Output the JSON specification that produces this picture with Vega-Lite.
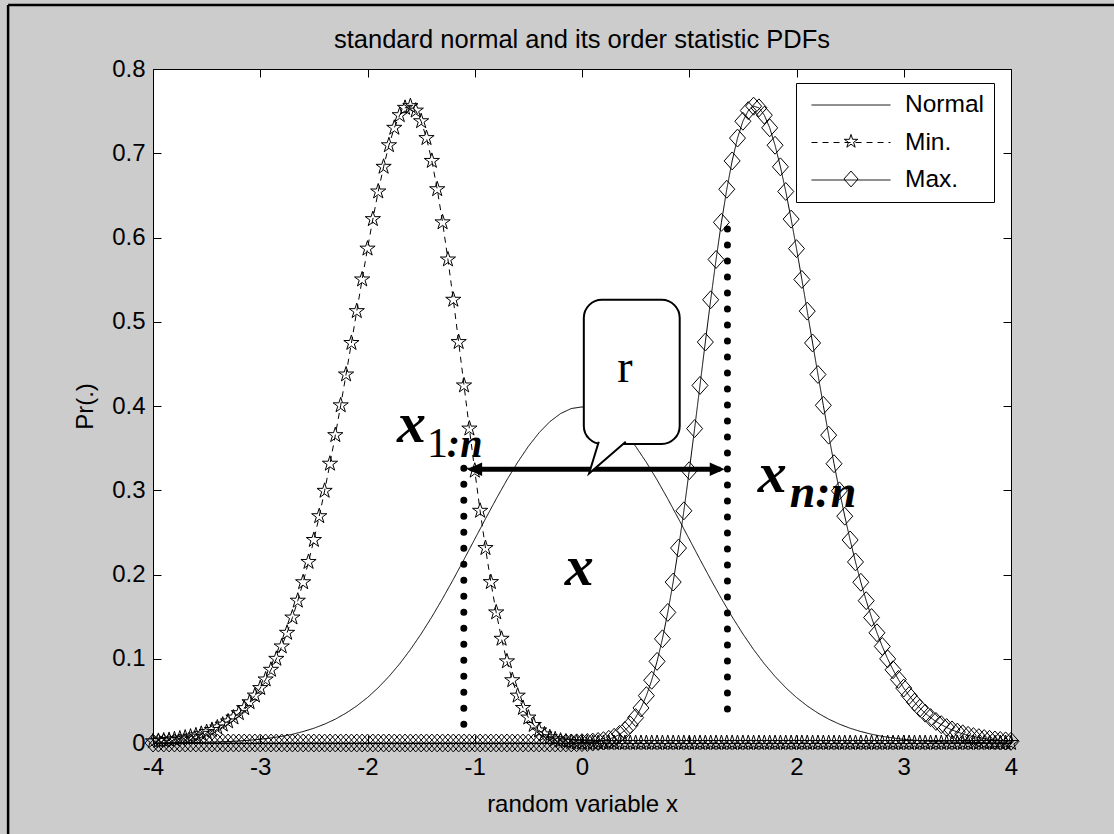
{
  "$schema": "https://vega.github.io/schema/vega-lite/v6.json",
  "width": 858,
  "height": 674,
  "autosize": {"type": "none"},
  "padding": {"left": 153, "top": 69, "right": 103, "bottom": 91},
  "background": "#cccccc",
  "title": {"text": "standard normal and its order statistic PDFs", "font": "Liberation Sans", "fontSize": 25.5, "fontWeight": "normal", "color": "black", "anchor": "middle", "frame": "group", "baseline": "alphabetic", "offset": 0, "dy": 70},
  "config": {
    "view": {"stroke": "black", "strokeWidth": 1, "fill": "white"},
    "axis": {"labelFont": "Liberation Sans", "titleFont": "Liberation Sans", "labelColor": "black", "titleColor": "black", "labelFontSize": 24, "titleFontSize": 24, "titleFontWeight": "normal", "grid": false, "domain": false, "tickColor": "black", "tickSize": -8, "tickWidth": 1, "labelFlush": false, "labelOverlap": false}
  },
  "datasets": {
    "c": [
      {"s":"Normal","x":-4,"y":0.0001},{"s":"Normal","x":-3.9,"y":0.0002},{"s":"Normal","x":-3.8,"y":0.0003},{"s":"Normal","x":-3.7,"y":0.0004},{"s":"Normal","x":-3.6,"y":0.0006},{"s":"Normal","x":-3.5,"y":0.0009},{"s":"Normal","x":-3.4,"y":0.0012},{"s":"Normal","x":-3.3,"y":0.0017},{"s":"Normal","x":-3.2,"y":0.0024},{"s":"Normal","x":-3.1,"y":0.0033},{"s":"Normal","x":-3,"y":0.0044},{"s":"Normal","x":-2.9,"y":0.006},{"s":"Normal","x":-2.8,"y":0.0079},{"s":"Normal","x":-2.7,"y":0.0104},{"s":"Normal","x":-2.6,"y":0.0136},{"s":"Normal","x":-2.5,"y":0.0175},{"s":"Normal","x":-2.4,"y":0.0224},{"s":"Normal","x":-2.3,"y":0.0283},{"s":"Normal","x":-2.2,"y":0.0355},{"s":"Normal","x":-2.1,"y":0.044},{"s":"Normal","x":-2,"y":0.054},{"s":"Normal","x":-1.9,"y":0.0656},{"s":"Normal","x":-1.8,"y":0.079},{"s":"Normal","x":-1.7,"y":0.094},{"s":"Normal","x":-1.6,"y":0.1109},{"s":"Normal","x":-1.5,"y":0.1295},{"s":"Normal","x":-1.4,"y":0.1497},{"s":"Normal","x":-1.3,"y":0.1714},{"s":"Normal","x":-1.2,"y":0.1942},{"s":"Normal","x":-1.1,"y":0.2179},{"s":"Normal","x":-1,"y":0.242},{"s":"Normal","x":-0.9,"y":0.2661},{"s":"Normal","x":-0.8,"y":0.2897},{"s":"Normal","x":-0.7,"y":0.3123},{"s":"Normal","x":-0.6,"y":0.3332},{"s":"Normal","x":-0.5,"y":0.3521},{"s":"Normal","x":-0.4,"y":0.3683},{"s":"Normal","x":-0.3,"y":0.3814},{"s":"Normal","x":-0.2,"y":0.391},{"s":"Normal","x":-0.1,"y":0.397},{"s":"Normal","x":0,"y":0.3989},{"s":"Normal","x":0.1,"y":0.397},{"s":"Normal","x":0.2,"y":0.391},{"s":"Normal","x":0.3,"y":0.3814},{"s":"Normal","x":0.4,"y":0.3683},{"s":"Normal","x":0.5,"y":0.3521},{"s":"Normal","x":0.6,"y":0.3332},{"s":"Normal","x":0.7,"y":0.3123},{"s":"Normal","x":0.8,"y":0.2897},{"s":"Normal","x":0.9,"y":0.2661},{"s":"Normal","x":1,"y":0.242},{"s":"Normal","x":1.1,"y":0.2179},{"s":"Normal","x":1.2,"y":0.1942},{"s":"Normal","x":1.3,"y":0.1714},{"s":"Normal","x":1.4,"y":0.1497},{"s":"Normal","x":1.5,"y":0.1295},{"s":"Normal","x":1.6,"y":0.1109},{"s":"Normal","x":1.7,"y":0.094},{"s":"Normal","x":1.8,"y":0.079},{"s":"Normal","x":1.9,"y":0.0656},{"s":"Normal","x":2,"y":0.054},{"s":"Normal","x":2.1,"y":0.044},{"s":"Normal","x":2.2,"y":0.0355},{"s":"Normal","x":2.3,"y":0.0283},{"s":"Normal","x":2.4,"y":0.0224},{"s":"Normal","x":2.5,"y":0.0175},{"s":"Normal","x":2.6,"y":0.0136},{"s":"Normal","x":2.7,"y":0.0104},{"s":"Normal","x":2.8,"y":0.0079},{"s":"Normal","x":2.9,"y":0.006},{"s":"Normal","x":3,"y":0.0044},{"s":"Normal","x":3.1,"y":0.0033},{"s":"Normal","x":3.2,"y":0.0024},{"s":"Normal","x":3.3,"y":0.0017},{"s":"Normal","x":3.4,"y":0.0012},{"s":"Normal","x":3.5,"y":0.0009},{"s":"Normal","x":3.6,"y":0.0006},{"s":"Normal","x":3.7,"y":0.0004},{"s":"Normal","x":3.8,"y":0.0003},{"s":"Normal","x":3.9,"y":0.0002},{"s":"Normal","x":4,"y":0.0001},
      {"s":"Min.","x":-4,"y":0.002},{"s":"Min.","x":-3.95,"y":0.0025},{"s":"Min.","x":-3.9,"y":0.003},{"s":"Min.","x":-3.85,"y":0.0036},{"s":"Min.","x":-3.8,"y":0.0044},{"s":"Min.","x":-3.75,"y":0.0053},{"s":"Min.","x":-3.7,"y":0.0064},{"s":"Min.","x":-3.65,"y":0.0076},{"s":"Min.","x":-3.6,"y":0.0091},{"s":"Min.","x":-3.55,"y":0.0109},{"s":"Min.","x":-3.5,"y":0.013},{"s":"Min.","x":-3.45,"y":0.0155},{"s":"Min.","x":-3.4,"y":0.0184},{"s":"Min.","x":-3.35,"y":0.0218},{"s":"Min.","x":-3.3,"y":0.0256},{"s":"Min.","x":-3.25,"y":0.0302},{"s":"Min.","x":-3.2,"y":0.0354},{"s":"Min.","x":-3.15,"y":0.0414},{"s":"Min.","x":-3.1,"y":0.0484},{"s":"Min.","x":-3.05,"y":0.0563},{"s":"Min.","x":-3,"y":0.0652},{"s":"Min.","x":-2.95,"y":0.0754},{"s":"Min.","x":-2.9,"y":0.0869},{"s":"Min.","x":-2.85,"y":0.0999},{"s":"Min.","x":-2.8,"y":0.1146},{"s":"Min.","x":-2.75,"y":0.1308},{"s":"Min.","x":-2.7,"y":0.1489},{"s":"Min.","x":-2.65,"y":0.1689},{"s":"Min.","x":-2.6,"y":0.1908},{"s":"Min.","x":-2.55,"y":0.2149},{"s":"Min.","x":-2.5,"y":0.241},{"s":"Min.","x":-2.45,"y":0.2692},{"s":"Min.","x":-2.4,"y":0.2993},{"s":"Min.","x":-2.35,"y":0.3315},{"s":"Min.","x":-2.3,"y":0.3654},{"s":"Min.","x":-2.25,"y":0.4008},{"s":"Min.","x":-2.2,"y":0.4374},{"s":"Min.","x":-2.15,"y":0.4748},{"s":"Min.","x":-2.1,"y":0.5126},{"s":"Min.","x":-2.05,"y":0.5502},{"s":"Min.","x":-2,"y":0.5868},{"s":"Min.","x":-1.95,"y":0.6218},{"s":"Min.","x":-1.9,"y":0.6546},{"s":"Min.","x":-1.85,"y":0.6839},{"s":"Min.","x":-1.8,"y":0.7095},{"s":"Min.","x":-1.75,"y":0.7302},{"s":"Min.","x":-1.7,"y":0.7452},{"s":"Min.","x":-1.65,"y":0.7539},{"s":"Min.","x":-1.6,"y":0.7559},{"s":"Min.","x":-1.55,"y":0.7506},{"s":"Min.","x":-1.5,"y":0.738},{"s":"Min.","x":-1.45,"y":0.718},{"s":"Min.","x":-1.4,"y":0.6909},{"s":"Min.","x":-1.35,"y":0.6573},{"s":"Min.","x":-1.3,"y":0.618},{"s":"Min.","x":-1.25,"y":0.5739},{"s":"Min.","x":-1.2,"y":0.5261},{"s":"Min.","x":-1.15,"y":0.4759},{"s":"Min.","x":-1.1,"y":0.4244},{"s":"Min.","x":-1.05,"y":0.3732},{"s":"Min.","x":-1,"y":0.3232},{"s":"Min.","x":-0.95,"y":0.2756},{"s":"Min.","x":-0.9,"y":0.2314},{"s":"Min.","x":-0.85,"y":0.191},{"s":"Min.","x":-0.8,"y":0.155},{"s":"Min.","x":-0.75,"y":0.1237},{"s":"Min.","x":-0.7,"y":0.0969},{"s":"Min.","x":-0.65,"y":0.0745},{"s":"Min.","x":-0.6,"y":0.0562},{"s":"Min.","x":-0.55,"y":0.0416},{"s":"Min.","x":-0.5,"y":0.0302},{"s":"Min.","x":-0.45,"y":0.0214},{"s":"Min.","x":-0.4,"y":0.0149},{"s":"Min.","x":-0.35,"y":0.0102},{"s":"Min.","x":-0.3,"y":0.0068},{"s":"Min.","x":-0.25,"y":0.0044},{"s":"Min.","x":-0.2,"y":0.0028},{"s":"Min.","x":-0.15,"y":0.0018},{"s":"Min.","x":-0.1,"y":0.0011},{"s":"Min.","x":-0.05,"y":0.0006},{"s":"Min.","x":0,"y":0.0004},{"s":"Min.","x":0.05,"y":0.0002},{"s":"Min.","x":0.1,"y":0.0001},{"s":"Min.","x":0.15,"y":0.0001},
      {"s":"Min.","x":0.2,"y":0},{"s":"Min.","x":0.25,"y":0},{"s":"Min.","x":0.3,"y":0},{"s":"Min.","x":0.35,"y":0},{"s":"Min.","x":0.4,"y":0},{"s":"Min.","x":0.45,"y":0},{"s":"Min.","x":0.5,"y":0},{"s":"Min.","x":0.55,"y":0},{"s":"Min.","x":0.6,"y":0},{"s":"Min.","x":0.65,"y":0},{"s":"Min.","x":0.7,"y":0},{"s":"Min.","x":0.75,"y":0},{"s":"Min.","x":0.8,"y":0},{"s":"Min.","x":0.85,"y":0},{"s":"Min.","x":0.9,"y":0},{"s":"Min.","x":0.95,"y":0},{"s":"Min.","x":1,"y":0},{"s":"Min.","x":1.05,"y":0},{"s":"Min.","x":1.1,"y":0},{"s":"Min.","x":1.15,"y":0},{"s":"Min.","x":1.2,"y":0},{"s":"Min.","x":1.25,"y":0},{"s":"Min.","x":1.3,"y":0},{"s":"Min.","x":1.35,"y":0},{"s":"Min.","x":1.4,"y":0},{"s":"Min.","x":1.45,"y":0},{"s":"Min.","x":1.5,"y":0},{"s":"Min.","x":1.55,"y":0},{"s":"Min.","x":1.6,"y":0},{"s":"Min.","x":1.65,"y":0},{"s":"Min.","x":1.7,"y":0},{"s":"Min.","x":1.75,"y":0},{"s":"Min.","x":1.8,"y":0},{"s":"Min.","x":1.85,"y":0},{"s":"Min.","x":1.9,"y":0},{"s":"Min.","x":1.95,"y":0},{"s":"Min.","x":2,"y":0},{"s":"Min.","x":2.05,"y":0},{"s":"Min.","x":2.1,"y":0},{"s":"Min.","x":2.15,"y":0},{"s":"Min.","x":2.2,"y":0},{"s":"Min.","x":2.25,"y":0},{"s":"Min.","x":2.3,"y":0},{"s":"Min.","x":2.35,"y":0},{"s":"Min.","x":2.4,"y":0},{"s":"Min.","x":2.45,"y":0},{"s":"Min.","x":2.5,"y":0},{"s":"Min.","x":2.55,"y":0},{"s":"Min.","x":2.6,"y":0},{"s":"Min.","x":2.65,"y":0},{"s":"Min.","x":2.7,"y":0},{"s":"Min.","x":2.75,"y":0},{"s":"Min.","x":2.8,"y":0},{"s":"Min.","x":2.85,"y":0},{"s":"Min.","x":2.9,"y":0},{"s":"Min.","x":2.95,"y":0},{"s":"Min.","x":3,"y":0},{"s":"Min.","x":3.05,"y":0},{"s":"Min.","x":3.1,"y":0},{"s":"Min.","x":3.15,"y":0},{"s":"Min.","x":3.2,"y":0},{"s":"Min.","x":3.25,"y":0},{"s":"Min.","x":3.3,"y":0},{"s":"Min.","x":3.35,"y":0},{"s":"Min.","x":3.4,"y":0},{"s":"Min.","x":3.45,"y":0},{"s":"Min.","x":3.5,"y":0},{"s":"Min.","x":3.55,"y":0},{"s":"Min.","x":3.6,"y":0},{"s":"Min.","x":3.65,"y":0},{"s":"Min.","x":3.7,"y":0},{"s":"Min.","x":3.75,"y":0},{"s":"Min.","x":3.8,"y":0},{"s":"Min.","x":3.85,"y":0},{"s":"Min.","x":3.9,"y":0},{"s":"Min.","x":3.95,"y":0},{"s":"Min.","x":4,"y":0},
      {"s":"Max.","x":-4,"y":0},{"s":"Max.","x":-3.95,"y":0},{"s":"Max.","x":-3.9,"y":0},{"s":"Max.","x":-3.85,"y":0},{"s":"Max.","x":-3.8,"y":0},{"s":"Max.","x":-3.75,"y":0},{"s":"Max.","x":-3.7,"y":0},{"s":"Max.","x":-3.65,"y":0},{"s":"Max.","x":-3.6,"y":0},{"s":"Max.","x":-3.55,"y":0},{"s":"Max.","x":-3.5,"y":0},{"s":"Max.","x":-3.45,"y":0},{"s":"Max.","x":-3.4,"y":0},{"s":"Max.","x":-3.35,"y":0},{"s":"Max.","x":-3.3,"y":0},{"s":"Max.","x":-3.25,"y":0},{"s":"Max.","x":-3.2,"y":0},{"s":"Max.","x":-3.15,"y":0},{"s":"Max.","x":-3.1,"y":0},{"s":"Max.","x":-3.05,"y":0},{"s":"Max.","x":-3,"y":0},{"s":"Max.","x":-2.95,"y":0},{"s":"Max.","x":-2.9,"y":0},{"s":"Max.","x":-2.85,"y":0},{"s":"Max.","x":-2.8,"y":0},{"s":"Max.","x":-2.75,"y":0},{"s":"Max.","x":-2.7,"y":0},{"s":"Max.","x":-2.65,"y":0},{"s":"Max.","x":-2.6,"y":0},{"s":"Max.","x":-2.55,"y":0},{"s":"Max.","x":-2.5,"y":0},{"s":"Max.","x":-2.45,"y":0},{"s":"Max.","x":-2.4,"y":0},{"s":"Max.","x":-2.35,"y":0},{"s":"Max.","x":-2.3,"y":0},{"s":"Max.","x":-2.25,"y":0},{"s":"Max.","x":-2.2,"y":0},{"s":"Max.","x":-2.15,"y":0},{"s":"Max.","x":-2.1,"y":0},{"s":"Max.","x":-2.05,"y":0},{"s":"Max.","x":-2,"y":0},{"s":"Max.","x":-1.95,"y":0},{"s":"Max.","x":-1.9,"y":0},{"s":"Max.","x":-1.85,"y":0},{"s":"Max.","x":-1.8,"y":0},{"s":"Max.","x":-1.75,"y":0},{"s":"Max.","x":-1.7,"y":0},{"s":"Max.","x":-1.65,"y":0},{"s":"Max.","x":-1.6,"y":0},{"s":"Max.","x":-1.55,"y":0},{"s":"Max.","x":-1.5,"y":0},{"s":"Max.","x":-1.45,"y":0},{"s":"Max.","x":-1.4,"y":0},{"s":"Max.","x":-1.35,"y":0},{"s":"Max.","x":-1.3,"y":0},{"s":"Max.","x":-1.25,"y":0},{"s":"Max.","x":-1.2,"y":0},{"s":"Max.","x":-1.15,"y":0},{"s":"Max.","x":-1.1,"y":0},{"s":"Max.","x":-1.05,"y":0},{"s":"Max.","x":-1,"y":0},{"s":"Max.","x":-0.95,"y":0},{"s":"Max.","x":-0.9,"y":0},{"s":"Max.","x":-0.85,"y":0},{"s":"Max.","x":-0.8,"y":0},{"s":"Max.","x":-0.75,"y":0},{"s":"Max.","x":-0.7,"y":0},{"s":"Max.","x":-0.65,"y":0},{"s":"Max.","x":-0.6,"y":0},{"s":"Max.","x":-0.55,"y":0},{"s":"Max.","x":-0.5,"y":0},{"s":"Max.","x":-0.45,"y":0},{"s":"Max.","x":-0.4,"y":0},{"s":"Max.","x":-0.35,"y":0},{"s":"Max.","x":-0.3,"y":0},{"s":"Max.","x":-0.25,"y":0},{"s":"Max.","x":-0.2,"y":0},
      {"s":"Max.","x":-0.15,"y":0.0001},{"s":"Max.","x":-0.1,"y":0.0001},{"s":"Max.","x":-0.05,"y":0.0002},{"s":"Max.","x":0,"y":0.0004},{"s":"Max.","x":0.05,"y":0.0006},{"s":"Max.","x":0.1,"y":0.0011},{"s":"Max.","x":0.15,"y":0.0018},{"s":"Max.","x":0.2,"y":0.0028},{"s":"Max.","x":0.25,"y":0.0044},{"s":"Max.","x":0.3,"y":0.0068},{"s":"Max.","x":0.35,"y":0.0102},{"s":"Max.","x":0.4,"y":0.0149},{"s":"Max.","x":0.45,"y":0.0214},{"s":"Max.","x":0.5,"y":0.0302},{"s":"Max.","x":0.55,"y":0.0416},{"s":"Max.","x":0.6,"y":0.0562},{"s":"Max.","x":0.65,"y":0.0745},{"s":"Max.","x":0.7,"y":0.0969},{"s":"Max.","x":0.75,"y":0.1237},{"s":"Max.","x":0.8,"y":0.155},{"s":"Max.","x":0.85,"y":0.191},{"s":"Max.","x":0.9,"y":0.2314},{"s":"Max.","x":0.95,"y":0.2756},{"s":"Max.","x":1,"y":0.3232},{"s":"Max.","x":1.05,"y":0.3732},{"s":"Max.","x":1.1,"y":0.4244},{"s":"Max.","x":1.15,"y":0.4759},{"s":"Max.","x":1.2,"y":0.5261},{"s":"Max.","x":1.25,"y":0.5739},{"s":"Max.","x":1.3,"y":0.618},{"s":"Max.","x":1.35,"y":0.6573},{"s":"Max.","x":1.4,"y":0.6909},{"s":"Max.","x":1.45,"y":0.718},{"s":"Max.","x":1.5,"y":0.738},{"s":"Max.","x":1.55,"y":0.7506},{"s":"Max.","x":1.6,"y":0.7559},{"s":"Max.","x":1.65,"y":0.7539},{"s":"Max.","x":1.7,"y":0.7452},{"s":"Max.","x":1.75,"y":0.7302},{"s":"Max.","x":1.8,"y":0.7095},{"s":"Max.","x":1.85,"y":0.6839},{"s":"Max.","x":1.9,"y":0.6546},{"s":"Max.","x":1.95,"y":0.6218},{"s":"Max.","x":2,"y":0.5868},{"s":"Max.","x":2.05,"y":0.5502},{"s":"Max.","x":2.1,"y":0.5126},{"s":"Max.","x":2.15,"y":0.4748},{"s":"Max.","x":2.2,"y":0.4374},{"s":"Max.","x":2.25,"y":0.4008},{"s":"Max.","x":2.3,"y":0.3654},{"s":"Max.","x":2.35,"y":0.3315},{"s":"Max.","x":2.4,"y":0.2993},{"s":"Max.","x":2.45,"y":0.2692},{"s":"Max.","x":2.5,"y":0.241},{"s":"Max.","x":2.55,"y":0.2149},{"s":"Max.","x":2.6,"y":0.1908},{"s":"Max.","x":2.65,"y":0.1689},{"s":"Max.","x":2.7,"y":0.1489},{"s":"Max.","x":2.75,"y":0.1308},{"s":"Max.","x":2.8,"y":0.1146},{"s":"Max.","x":2.85,"y":0.0999},{"s":"Max.","x":2.9,"y":0.0869},{"s":"Max.","x":2.95,"y":0.0754},{"s":"Max.","x":3,"y":0.0652},{"s":"Max.","x":3.05,"y":0.0563},{"s":"Max.","x":3.1,"y":0.0484},{"s":"Max.","x":3.15,"y":0.0414},{"s":"Max.","x":3.2,"y":0.0354},{"s":"Max.","x":3.25,"y":0.0302},{"s":"Max.","x":3.3,"y":0.0256},{"s":"Max.","x":3.35,"y":0.0218},{"s":"Max.","x":3.4,"y":0.0184},{"s":"Max.","x":3.45,"y":0.0155},{"s":"Max.","x":3.5,"y":0.013},{"s":"Max.","x":3.55,"y":0.0109},{"s":"Max.","x":3.6,"y":0.0091},{"s":"Max.","x":3.65,"y":0.0076},{"s":"Max.","x":3.7,"y":0.0064},{"s":"Max.","x":3.75,"y":0.0053},{"s":"Max.","x":3.8,"y":0.0044},{"s":"Max.","x":3.85,"y":0.0036},{"s":"Max.","x":3.9,"y":0.003},{"s":"Max.","x":3.95,"y":0.0025},{"s":"Max.","x":4,"y":0.002}
    ]
  },
  "encoding": {
    "x": {"field": "x", "type": "quantitative", "scale": {"domain": [-4, 4], "nice": false, "zero": false}, "axis": null},
    "y": {"field": "y", "type": "quantitative", "scale": {"domain": [0, 0.8], "nice": false, "zero": false}, "axis": null}
  },
  "resolve": {"axis": {"x": "independent", "y": "independent"}},
  "layer": [
    {
      "data": {"values": [{"x": -5.351, "x2": -5.351, "y": 0.876, "y2": -0.2}, {"x": -5.351, "x2": 5.2, "y": 0.876, "y2": 0.876}]},
      "mark": {"type": "rule", "color": "black", "strokeWidth": 2.5},
      "encoding": {"x2": {"field": "x2"}, "y2": {"field": "y2"}}
    },
    {
      "data": {"name": "c"},
      "mark": {"type": "line", "color": "black", "strokeWidth": 1},
      "encoding": {
        "x": {"field": "x", "type": "quantitative", "scale": {"domain": [-4, 4], "nice": false, "zero": false},
          "axis": {"orient": "bottom", "values": [-4, -3, -2, -1, 0, 1, 2, 3, 4], "labelExpr": "'' + datum.value", "labelPadding": 20, "title": "random variable x", "titleY": 61, "titleBaseline": "middle"}},
        "y": {"field": "y", "type": "quantitative", "scale": {"domain": [0, 0.8], "nice": false, "zero": false},
          "axis": {"orient": "left", "values": [0, 0.1, 0.2, 0.3, 0.4, 0.5, 0.6, 0.7, 0.8], "labelExpr": "'' + datum.value", "labelPadding": 16, "title": "Pr(.)", "titleX": -68, "titleY": 337, "titleAlign": "center", "titleBaseline": "middle"}},
        "strokeDash": {"field": "s", "type": "nominal", "scale": {"domain": ["Normal", "Min.", "Max."], "range": [[1, 0], [6, 5], [1, 0]]},
          "legend": {
            "orient": "none", "legendX": 643, "legendY": 14, "title": null, "padding": 10,
            "strokeColor": "black", "fillColor": "white",
            "symbolSize": 6241, "symbolStrokeWidth": 1, "symbolStrokeColor": "black", "symbolOffset": 5,
            "clipHeight": 24, "rowPadding": 12.5,
            "labelFont": "Liberation Sans", "labelFontSize": 24.5, "labelColor": "black", "labelOffset": 14
          }}
      }
    },
    {
      "data": {"name": "c"},
      "transform": [{"filter": "datum.s !== 'Normal'"}],
      "mark": {"type": "point", "filled": false, "color": "black", "strokeWidth": 1, "opacity": 1, "size": 256},
      "encoding": {
        "x": {"field": "x", "type": "quantitative", "scale": {"domain": [-4, 4], "nice": false, "zero": false},
          "axis": {"orient": "top", "values": [-4, -3, -2, -1, 0, 1, 2, 3, 4], "labels": false, "title": null}},
        "y": {"field": "y", "type": "quantitative", "scale": {"domain": [0, 0.8], "nice": false, "zero": false},
          "axis": {"orient": "right", "values": [0, 0.1, 0.2, 0.3, 0.4, 0.5, 0.6, 0.7, 0.8], "labels": false, "title": null}},
        "shape": {"field": "s", "type": "nominal", "scale": {"domain": ["Min.", "Max."], "range": ["M0,-1L0.225,-0.309L0.951,-0.309L0.363,0.118L0.588,0.809L0,0.382L-0.588,0.809L-0.363,0.118L-0.951,-0.309L-0.225,-0.309Z", "M-1,0L0,-1.12L1,0L0,1.12Z"]},
          "legend": {
            "orient": "none", "legendX": 643, "legendY": 50.5, "title": null, "padding": 10,
            "strokeColor": "transparent", "fillColor": "transparent",
            "symbolSize": 200, "symbolStrokeWidth": 1, "symbolStrokeColor": "black", "symbolFillColor": "transparent", "symbolOffset": 32.75,
            "clipHeight": 24, "rowPadding": 12.5,
            "labelExpr": "' '", "labelFont": "Liberation Sans", "labelFontSize": 24.5, "labelOpacity": 0, "labelOffset": 14
          }}
      }
    },
    {
      "data": {"values": [{"x": -1.102, "y": 0.326, "y2": 0.0214}, {"x": 1.356, "y": 0.61, "y2": 0.0214}]},
      "mark": {"type": "rule", "color": "black", "strokeWidth": 7, "strokeCap": "round", "strokeDash": [0, 16]},
      "encoding": {"y2": {"field": "y2"}}
    },
    {
      "data": {"values": [{"x": -1.03, "x2": 1.29, "y": 0.325}]},
      "mark": {"type": "rule", "color": "black", "strokeWidth": 5},
      "encoding": {"x2": {"field": "x2"}}
    },
    {
      "data": {"values": [{"x": -1.071, "y": 0.325}]},
      "mark": {"type": "point", "shape": "M0,0L1,-0.45L1,0.45Z", "filled": true, "color": "black", "opacity": 1, "size": 900}
    },
    {
      "data": {"values": [{"x": 1.331, "y": 0.325}]},
      "mark": {"type": "point", "shape": "M0,0L-1,-0.45L-1,0.45Z", "filled": true, "color": "black", "opacity": 1, "size": 900}
    },
    {
      "data": {"values": [{"x": 0.017, "x2": 0.911, "y": 0.526, "y2": 0.355}]},
      "mark": {"type": "rect", "cornerRadius": 18, "fill": "white", "stroke": "black", "strokeWidth": 2},
      "encoding": {"x2": {"field": "x2"}, "y2": {"field": "y2"}}
    },
    {
      "data": {"values": [{"x": 0.066, "y": 0.32}]},
      "mark": {"type": "point", "shape": "M0.285,-0.93L0,0L1.079,-0.93", "filled": true, "fill": "white", "stroke": "black", "strokeWidth": 2, "opacity": 1, "size": 4624}
    },
    {
      "data": {"values": [{"x": 0.399, "y": 0.445, "t": "r"}]},
      "mark": {"type": "text", "font": "Liberation Serif", "fontSize": 46, "color": "black", "align": "center", "baseline": "middle"},
      "encoding": {"text": {"field": "t"}}
    },
    {
      "data": {"values": [{"x": -1.726, "y": 0.3573, "t": "x"}, {"x": 1.638, "y": 0.298, "t": "x"}, {"x": -0.16, "y": 0.1875, "t": "x"}]},
      "mark": {"type": "text", "font": "Liberation Serif", "fontSize": 58, "fontWeight": "bold", "fontStyle": "italic", "color": "black", "align": "left", "baseline": "alphabetic"},
      "encoding": {"text": {"field": "t"}}
    },
    {
      "data": {"values": [{"x": -1.446, "y": 0.3395, "t": "1"}]},
      "mark": {"type": "text", "font": "Liberation Serif", "fontSize": 42, "color": "black", "align": "left", "baseline": "alphabetic"},
      "encoding": {"text": {"field": "t"}}
    },
    {
      "data": {"values": [{"x": -1.26, "y": 0.3395, "t": ":n"}]},
      "mark": {"type": "text", "font": "Liberation Serif", "fontSize": 40, "fontWeight": "bold", "fontStyle": "italic", "color": "black", "align": "left", "baseline": "alphabetic"},
      "encoding": {"text": {"field": "t"}}
    },
    {
      "data": {"values": [{"x": 1.937, "y": 0.28, "t": "n:n"}]},
      "mark": {"type": "text", "font": "Liberation Serif", "fontSize": 46, "fontWeight": "bold", "fontStyle": "italic", "color": "black", "align": "left", "baseline": "alphabetic"},
      "encoding": {"text": {"field": "t"}}
    }
  ]
}
